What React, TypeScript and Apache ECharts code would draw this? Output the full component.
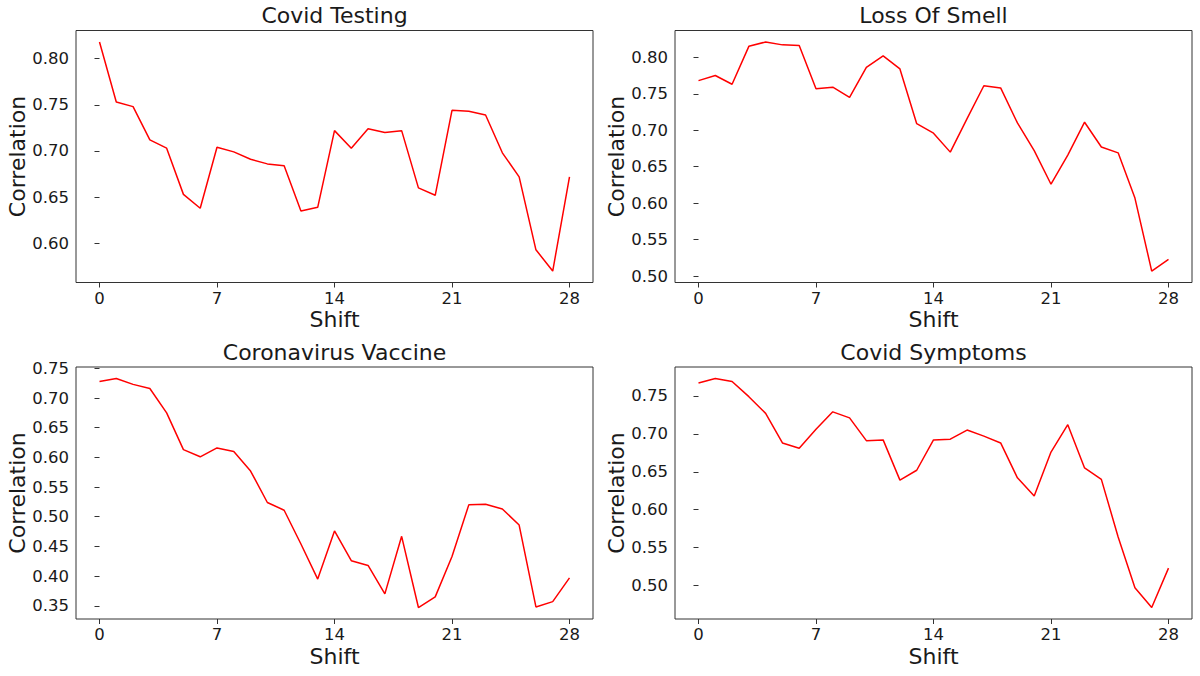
import React, { useEffect, useRef } from "react";
import * as echarts from "echarts";

const shifts = [0, 1, 2, 3, 4, 5, 6, 7, 8, 9, 10, 11, 12, 13, 14, 15, 16, 17, 18, 19, 20, 21, 22, 23, 24, 25, 26, 27, 28];
const xTicks = [0, 7, 14, 21, 28];

const titles = ["Covid Testing", "Loss Of Smell", "Coronavirus Vaccine", "Covid Symptoms"];

const covidTesting = [0.818, 0.753, 0.748, 0.712, 0.703, 0.653, 0.638, 0.704, 0.699, 0.691, 0.686, 0.684, 0.635, 0.639, 0.722, 0.703, 0.724, 0.720, 0.722, 0.660, 0.652, 0.744, 0.743, 0.739, 0.698, 0.672, 0.593, 0.570, 0.672];
const lossOfSmell = [0.768, 0.775, 0.763, 0.815, 0.821, 0.817, 0.816, 0.757, 0.759, 0.745, 0.786, 0.802, 0.784, 0.709, 0.696, 0.670, 0.716, 0.761, 0.758, 0.710, 0.672, 0.626, 0.666, 0.711, 0.677, 0.669, 0.607, 0.507, 0.523];
const coronavirusVaccine = [0.728, 0.733, 0.723, 0.716, 0.675, 0.613, 0.601, 0.616, 0.610, 0.577, 0.524, 0.511, 0.454, 0.395, 0.476, 0.426, 0.418, 0.370, 0.467, 0.347, 0.365, 0.433, 0.520, 0.521, 0.513, 0.486, 0.348, 0.357, 0.397];
const covidSymptoms = [0.767, 0.773, 0.769, 0.749, 0.727, 0.688, 0.681, 0.706, 0.729, 0.721, 0.691, 0.692, 0.639, 0.652, 0.692, 0.693, 0.705, 0.697, 0.688, 0.642, 0.618, 0.676, 0.712, 0.655, 0.640, 0.564, 0.497, 0.471, 0.523];

const yTicksTesting = [0.60, 0.65, 0.70, 0.75, 0.80];
const yTicksSmell = [0.50, 0.55, 0.60, 0.65, 0.70, 0.75, 0.80];
const yTicksVaccine = [0.35, 0.40, 0.45, 0.50, 0.55, 0.60, 0.65, 0.70, 0.75];
const yTicksSymptoms = [0.50, 0.55, 0.60, 0.65, 0.70, 0.75];

const seriesValues = [covidTesting, lossOfSmell, coronavirusVaccine, covidSymptoms];
const yTickSets = [yTicksTesting, yTicksSmell, yTicksVaccine, yTicksSymptoms];

const FONT = "DejaVu Sans";
const TEXT = "#1a1a1a";
const FRAME = "#333333";

const grids = [
  { left: 76, top: 30.5, width: 517, height: 252 },
  { left: 675, top: 30.5, width: 517, height: 252 },
  { left: 76, top: 367, width: 517, height: 252 },
  { left: 675, top: 367, width: 517, height: 252 },
];

export default function App() {
  const ref = useRef<HTMLDivElement>(null);

  useEffect(() => {
    if (!ref.current) return;
    const chart = echarts.init(ref.current, undefined, { renderer: "svg" });

    const xMin = shifts[0] - (shifts[shifts.length - 1] - shifts[0]) * 0.05;
    const xMax = shifts[shifts.length - 1] + (shifts[shifts.length - 1] - shifts[0]) * 0.05;

    const option: any = {
      animation: false,
      backgroundColor: "#ffffff",
      grid: grids.map((g) => ({
        ...g,
        show: true,
        borderColor: FRAME,
        borderWidth: 1,
        backgroundColor: "transparent",
        containLabel: false,
      })),
      xAxis: grids.map((_, i) => ({
        type: "value",
        gridIndex: i,
        min: xMin,
        max: xMax,
        splitLine: { show: false },
        axisLine: { show: false },
        axisTick: { show: true, length: 5, lineStyle: { color: FRAME, width: 1 }, customValues: xTicks },
        axisLabel: {
          customValues: xTicks,
          margin: 7,
          fontSize: 16.5,
          color: TEXT,
          fontFamily: FONT,
          formatter: (v: number) => String(v),
        },
        name: "Shift",
        nameLocation: "middle",
        nameGap: 26,
        nameTextStyle: { fontSize: 22, color: TEXT, fontFamily: FONT },
      })),
      yAxis: grids.map((_, i) => {
        const vals = seriesValues[i];
        const lo = Math.min(...vals);
        const hi = Math.max(...vals);
        const pad = (hi - lo) * 0.05;
        return {
          type: "value",
          gridIndex: i,
          min: lo - pad,
          max: hi + pad,
          splitLine: { show: false },
          axisLine: { show: false },
          axisTick: { show: true, length: 5, lineStyle: { color: FRAME, width: 1 }, customValues: yTickSets[i] },
          axisLabel: {
            customValues: yTickSets[i],
            margin: 7,
            fontSize: 16.5,
            color: TEXT,
            fontFamily: FONT,
            formatter: (v: number) => v.toFixed(2),
          },
          name: "Correlation",
          nameLocation: "middle",
          nameGap: 48,
          nameTextStyle: { fontSize: 22, color: TEXT, fontFamily: FONT },
        };
      }),
      graphic: grids.map((g, i) => ({
        type: "text",
        x: g.left + g.width / 2,
        y: g.top - 15,
        style: {
          text: titles[i],
          fontSize: 22,
          fontFamily: FONT,
          fill: TEXT,
          textAlign: "center",
          textVerticalAlign: "middle",
        },
      })),
      series: seriesValues.map((vals, i) => ({
        type: "line",
        xAxisIndex: i,
        yAxisIndex: i,
        data: shifts.map((s, j) => [s, vals[j]]),
        symbol: "none",
        showSymbol: false,
        lineStyle: { color: "#ff0000", width: 1.5 },
        itemStyle: { color: "#ff0000" },
      })),
    };

    chart.setOption(option);
    return () => chart.dispose();
  }, []);

  return (
    <div
      ref={ref}
      style={{ position: "fixed", left: 0, top: 0, width: 1200, height: 676, background: "#fff" }}
    />
  );
}
